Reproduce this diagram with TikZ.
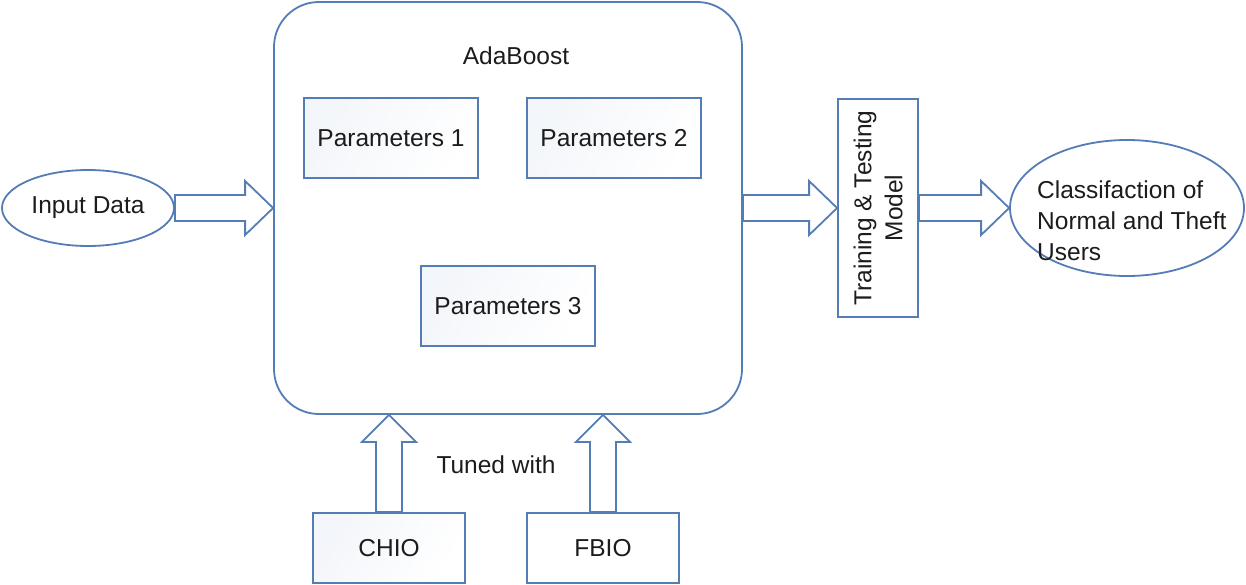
\documentclass[tikz,border=0pt]{standalone}
\usepackage{fontspec}
\setmainfont{Liberation Sans}
\usetikzlibrary{calc,shapes.geometric}
\definecolor{lineblue}{RGB}{84,125,182}
\definecolor{inkgray}{RGB}{28,28,28}
\tikzset{
	flow/.style={draw=lineblue, line width=1.8pt, text=inkgray, font=\fontsize{24.5}{31}\selectfont, inner sep=0pt},
	parambox/.style={flow, rectangle, minimum width=174pt, minimum height=80pt},
	algobox/.style={flow, rectangle, minimum width=152pt, minimum height=70pt},
	blockarrow/.style={draw=lineblue, line width=1.8pt, fill=white, line join=miter},
	plaintext/.style={text=inkgray, font=\fontsize{24.5}{31}\selectfont, inner sep=0pt},
	softshade/.style={left color=lineblue!7, right color=white, shading angle=60, draw=none}
}
\newcommand\rightblock[2]{\draw[blockarrow] let \p1=(#1), \p2=(#2) in (\x1,\y1+13pt) -- (\x2-28pt,\y1+13pt) -- (\x2-28pt,\y1+27pt) -- (\x2,\y1) -- (\x2-28pt,\y1-27pt) -- (\x2-28pt,\y1-13pt) -- (\x1,\y1-13pt) -- cycle;}
\newcommand\upblock[2]{\draw[blockarrow] let \p1=(#1), \p2=(#2) in (\x1-13pt,\y1) -- (\x1-13pt,\y2-27pt) -- (\x1-27pt,\y2-27pt) -- (\x1,\y2) -- (\x1+27pt,\y2-27pt) -- (\x1+13pt,\y2-27pt) -- (\x1+13pt,\y1) -- cycle;}

\begin{document}
\begin{tikzpicture}[x=1pt, y=-1pt]
		%%%%% START %%%%%
		\useasboundingbox (0, 0) rectangle (1246, 584);
		
		% faint fill behind the small boxes
		\shade[softshade] (304, 98) rectangle (478, 178);
		\shade[softshade] (527, 98) rectangle (701, 178);
		\shade[softshade] (421, 266) rectangle (595, 346);
		\shade[softshade] (313, 513) rectangle (465, 583);
		
		\node[flow, ellipse, minimum width=172pt, minimum height=76pt] (input) at (88, 208) {Input Data};
		
		\node[flow, rectangle, rounded corners=45pt, minimum width=468pt, minimum height=412pt] (ada) at (508, 208) {};
		\node[plaintext] (adaLabel) at (516, 56) {AdaBoost};
		
		\node[parambox] (param1) at (391, 138) {Parameters 1};
		\node[parambox] (param2) at (614, 138) {Parameters 2};
		\node[parambox] (param3) at (508, 306) {Parameters 3};
		
		\node[flow, rectangle, minimum width=80pt, minimum height=218pt] (train) at (878, 208) {};
		\node[plaintext, rotate=90, align=center] (trainLabel) at (train.center) {Training \& Testing\\Model};
		
		\node[flow, ellipse, minimum width=234pt, minimum height=136pt] (cls) at (1127, 208) {};
		\node[plaintext, anchor=west, align=left] (clsLabel) at (1037, 221) {Classifaction of\\Normal and Theft\\Users};
		
		\node[algobox] (chio) at (389, 548) {CHIO};
		\node[algobox] (fbio) at (603, 548) {FBIO};
		\node[plaintext] (tuned) at (496, 465) {Tuned with};
		
		\rightblock{input.east}{ada.west |- input.east}
		\rightblock{ada.east}{train.west |- ada.east}
		\rightblock{train.east}{cls.west |- train.east}
		\upblock{chio.north}{chio.north |- ada.south}
		\upblock{fbio.north}{fbio.north |- ada.south}
		
		%%%%% END %%%%%
	\end{tikzpicture}
\end{document}
